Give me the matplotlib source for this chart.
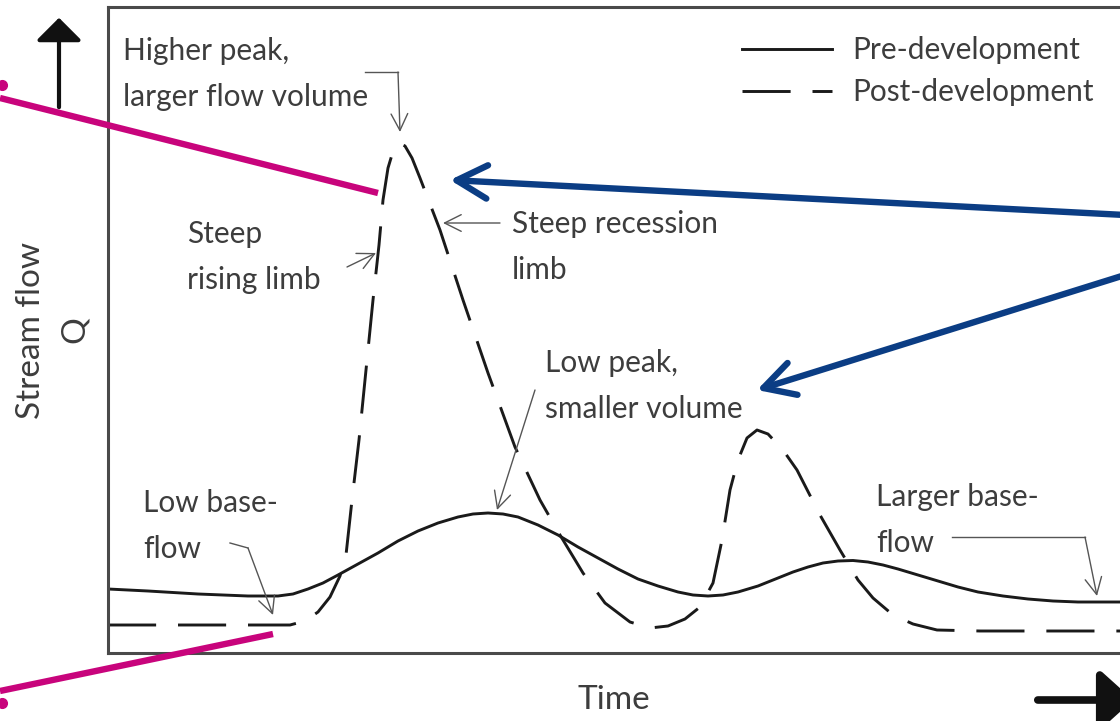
import matplotlib.pyplot as plt
from matplotlib.lines import Line2D
from matplotlib.patches import FancyArrowPatch

W, H = 1120, 721

# hydrograph (time, stream flow Q; arbitrary units)
time_pre = [0.0, 4.0, 9.0, 14.0, 17.0, 18.5, 20.0, 21.5, 23.0, 25.0, 27.0, 29.0, 31.0, 33.0,
            35.0, 36.5, 38.0, 39.5, 41.0, 43.0, 45.0, 47.0, 49.0, 51.0, 53.0, 55.0, 57.0, 58.5,
            60.0, 61.5, 63.0, 65.0, 67.0, 68.5, 70.0, 71.5, 73.0, 74.5, 76.0, 77.5, 79.0, 81.0,
            83.0, 85.0, 87.0, 89.5, 92.0, 94.5, 97.0, 101.2]
flow_pre = [6.4, 6.2, 5.9, 5.7, 5.7, 5.9, 6.4, 7.0, 7.8, 8.9, 10.0, 11.2, 12.2, 13.0,
            13.6, 13.9, 14.0, 13.9, 13.6, 12.8, 11.8, 10.6, 9.5, 8.4, 7.4, 6.7, 6.1, 5.8,
            5.7, 5.8, 6.1, 6.7, 7.5, 8.1, 8.6, 9.0, 9.2, 9.25, 9.1, 8.8, 8.4, 7.8,
            7.2, 6.6, 6.1, 5.7, 5.4, 5.2, 5.1, 5.1]

time_post = [0.0, 9.2, 18.2, 19.7, 21.0, 22.2, 23.2, 23.8, 24.4, 25.1, 25.8, 26.5, 27.1, 27.5,
             28.0, 28.6, 29.1, 29.7, 30.4, 31.2, 33.2, 35.5, 38.0, 40.7, 43.2, 45.2, 47.5, 49.7,
             52.2, 54.2, 56.0, 57.7, 59.2, 60.5, 61.4, 62.2, 63.0, 63.9, 64.9, 66.0, 67.5, 68.9,
             71.2, 73.2, 75.0, 76.5, 78.5, 80.5, 82.9, 87.2, 101.2]
flow_post = [2.8, 2.8, 2.8, 3.2, 4.1, 5.6, 7.7, 9.8, 15.3, 21.3, 28.3, 35.3, 40.8, 45.3,
             48.5, 50.5, 51.0, 50.7, 49.5, 47.5, 42.3, 35.3, 28.0, 20.6, 15.3, 11.8, 8.0, 5.0,
             3.1, 2.5, 2.7, 3.4, 4.6, 7.0, 11.3, 16.3, 19.3, 21.5, 22.3, 21.9, 20.3, 18.3,
             13.8, 10.3, 7.3, 5.5, 3.8, 2.9, 2.3, 2.2, 2.2]

series_labels = ['Pre-development', 'Post-development']

plt.rcParams['font.family'] = ['Lato', 'DejaVu Sans']
TXT = '#3d3d3d'
GREY = '#555555'
MAGENTA = '#c8047c'
BLUE = '#0b3d84'
FS = 21.5


def P(x, y):
    # pixel position -> figure fraction
    return (x / W, 1 - y / H)


fig = plt.figure(figsize=(W / 100, H / 100), dpi=100)
ax = fig.add_axes([108 / W, 1 - 653 / H, 1 - 108 / W, (653 - 7) / H])

pre, = ax.plot(time_pre, flow_pre, color='#1a1a1a', lw=2.1, label=series_labels[0])
post, = ax.plot(time_post, flow_post, color='#1a1a1a', lw=2.1, linestyle=(0, (16.5, 7.5)),
                label=series_labels[1])

ax.set_xlim(0, 101.2)
ax.set_ylim(0, 64.6)
ax.set_xticks([])
ax.set_yticks([])
for s in ['left', 'top', 'bottom']:
    ax.spines[s].set_color('#4a4a4a')
    ax.spines[s].set_linewidth(2.2)
ax.spines['right'].set_visible(False)

ax.set_xlabel('Time', fontsize=24, color=TXT, labelpad=23)
ax.set_ylabel('Stream flow\nQ', fontsize=24, color=TXT, labelpad=13, linespacing=1.6)

ax.legend(handles=[pre, post], loc='upper left', bbox_to_anchor=P(742, 36),
          bbox_transform=fig.transFigure, frameon=False, fontsize=FS, labelcolor=TXT,
          handlelength=3.0, handletextpad=0.7, labelspacing=0.48, borderpad=0,
          borderaxespad=0)

# annotation texts
notes = [
    ('Higher peak,\nlarger flow volume', 123, 74),
    ('Steep\nrising limb', 187, 257),
    ('Steep recession\nlimb', 512, 247),
    ('Low peak,\nsmaller volume', 545, 386),
    ('Low base-\nflow', 143, 526),
    ('Larger base-\nflow', 876, 520),
]
for txt, x, y in notes:
    fig.text(*P(x, y), txt, fontsize=FS, color=TXT, ha='left', va='center', linespacing=1.78)

thin = dict(arrowstyle='->,head_length=0.6,head_width=0.3', color=GREY, lw=1.0,
            mutation_scale=20, shrinkA=0, shrinkB=0)


def pointer(path):
    xs = [P(x, y)[0] for x, y in path]
    ys = [P(x, y)[1] for x, y in path]
    if len(path) > 2:
        fig.add_artist(Line2D(xs[:-1], ys[:-1], transform=fig.transFigure, color=GREY, lw=1.0))
    ax.annotate('', xy=P(*path[-1]), xytext=P(*path[-2]), xycoords='figure fraction',
                textcoords='figure fraction', arrowprops=thin)


pointer([(365, 72), (398, 72), (400, 132)])
pointer([(347, 267), (376, 253)])
pointer([(500, 223), (443, 223)])
pointer([(535, 390), (497, 510)])
pointer([(230, 543), (248, 548), (273, 615)])
pointer([(952, 537), (1085, 537), (1097, 596)])

# axis direction arrows
fig.add_artist(FancyArrowPatch(P(59, 110), P(59, 15), transform=fig.transFigure,
                               arrowstyle='-|>,head_length=0.5,head_width=0.5',
                               mutation_scale=28, color='#111111', lw=3))
fig.add_artist(FancyArrowPatch(P(1035, 700), P(1136, 700), transform=fig.transFigure,
                               arrowstyle='-|>,head_length=0.5,head_width=0.45',
                               mutation_scale=40, color='#111111', lw=5.5))

# magenta callout lines
for (x0, y0), (x1, y1), dot in [((0, 98), (378, 193), (2, 85)), ((0, 691), (273, 634), (2, 703))]:
    fig.add_artist(Line2D([P(x0, y0)[0], P(x1, y1)[0]], [P(x0, y0)[1], P(x1, y1)[1]],
                          transform=fig.transFigure, color=MAGENTA, lw=4.6,
                          solid_capstyle='butt'))
    fig.add_artist(Line2D([P(*dot)[0]], [P(*dot)[1]], transform=fig.transFigure,
                          marker='o', markersize=7, color=MAGENTA, lw=0))

# blue arrows
blue = dict(arrowstyle='->,head_length=1.1,head_width=0.6', color=BLUE, lw=4.6,
            mutation_scale=20, shrinkA=0, shrinkB=0, capstyle='round')
ax.annotate('', xy=P(450, 180), xytext=P(1125, 215), xycoords='figure fraction',
            textcoords='figure fraction', arrowprops=blue, annotation_clip=False)
ax.annotate('', xy=P(757, 390), xytext=P(1125, 275), xycoords='figure fraction',
            textcoords='figure fraction', arrowprops=blue, annotation_clip=False)

fig.savefig('out.png', dpi=100)
